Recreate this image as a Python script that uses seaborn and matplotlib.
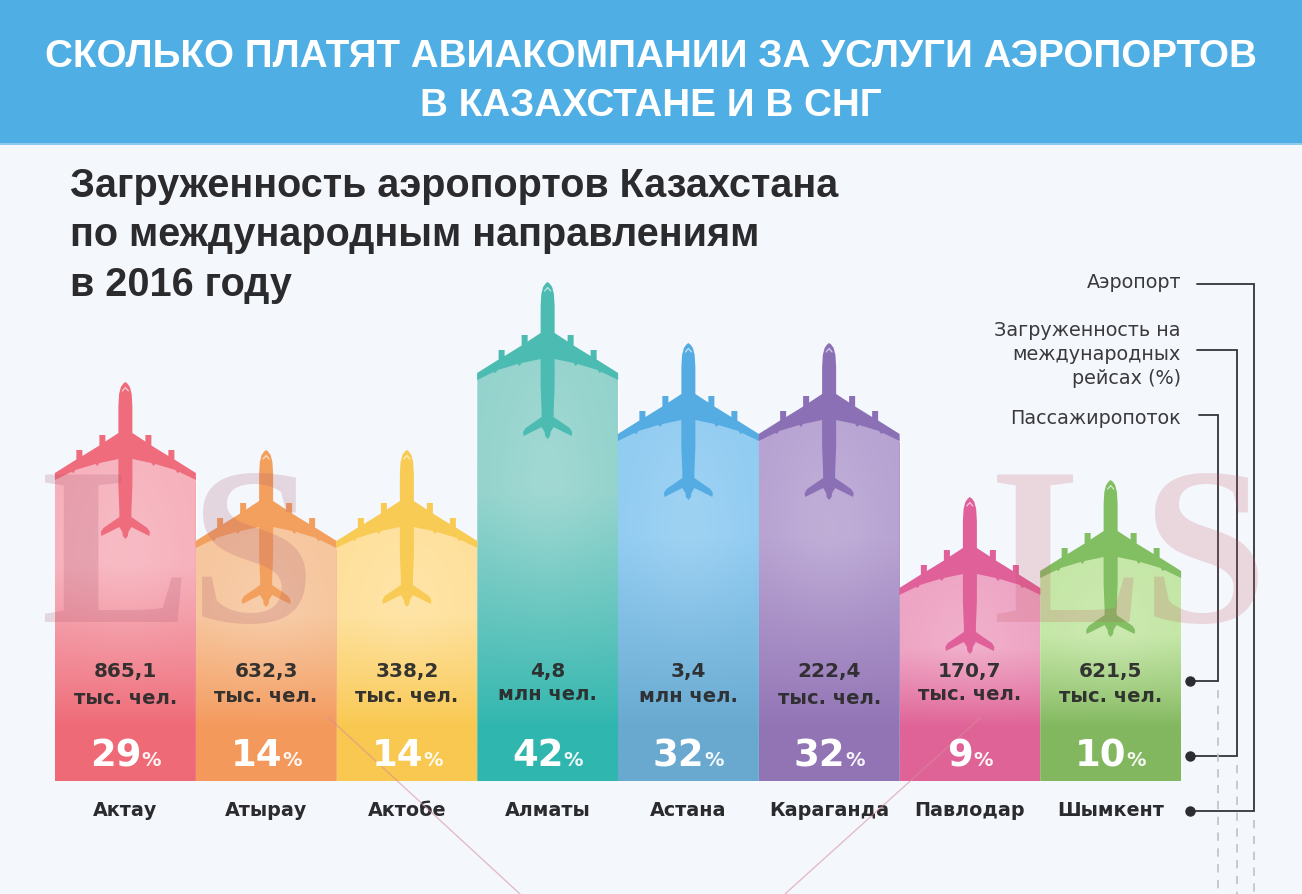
import numpy as np
import pandas as pd
import matplotlib
matplotlib.use("Agg")
import matplotlib.pyplot as plt
from matplotlib.patches import Polygon, Rectangle
import seaborn as sns

# ---------- data ----------
cities = ["Актау", "Атырау", "Актобе", "Алматы", "Астана", "Караганда", "Павлодар", "Шымкент"]
load_pct = [29, 14, 14, 42, 32, 32, 9, 10]
passengers = ["865,1", "632,3", "338,2", "4,8", "3,4", "222,4", "170,7", "621,5"]
units = ["тыс. чел.", "тыс. чел.", "тыс. чел.", "млн чел.", "млн чел.", "тыс. чел.", "тыс. чел.", "тыс. чел."]
bar_heights = [301, 233, 233, 401, 340, 340, 186, 203]

title_lines = ["СКОЛЬКО ПЛАТЯТ АВИАКОМПАНИИ ЗА УСЛУГИ АЭРОПОРТОВ", "В КАЗАХСТАНЕ И В СНГ"]
sub_lines = ["Загруженность аэропортов Казахстана", "по международным направлениям", "в 2016 году"]

# ---------- styles ----------
bottom_colors = ["#EE6A76", "#F4995C", "#F9C850", "#2FB6AE", "#69A9CF", "#9274B5", "#DF6396", "#82B75F"]
top_colors = ["#F6B0BB", "#F6C59C", "#FEE09A", "#92D2CC", "#8FCBF1", "#B6A1D1", "#EEA3C3", "#C3E6A4"]
plane_colors = ["#EE6C7C", "#F3A05E", "#F8CB55", "#4CBBB2", "#55ACE3", "#8B70B5", "#E0609A", "#82BE62"]
BG = "#F4F8FD"
DARK = "#2B2B2E"
unit_y_px = [699, 697, 696, 694, 696, 698, 694, 697]

W, H = 1302, 894
DPI = 100
sns.set_theme(style="white")
plt.rcParams["font.family"] = ["DejaVu Sans"]

fig = plt.figure(figsize=(W / DPI, H / DPI), dpi=DPI, facecolor=BG)

# pixel-coordinates background layer
bg = fig.add_axes([0, 0, 1, 1], zorder=0)
bg.set_xlim(0, W); bg.set_ylim(H, 0); bg.axis("off")
bg.add_patch(Rectangle((0, 0), W, 143, fc="#4FAEE3", ec="none"))
bg.add_patch(Rectangle((0, 143), W, 1.5, fc="#8CCBEE", ec="none"))

px = lambda p: p * 72 / DPI
def fit(t, target):
    r = fig.canvas.get_renderer()
    t.set_fontsize(t.get_fontsize() * target / t.get_window_extent(r).width)

HEAD = "Liberation Sans"
t1 = bg.text(651, 57, title_lines[0], color="white", weight="bold", family=HEAD, ha="center", va="center", fontsize=26)
fit(t1, 1212)
bg.text(651, 106, title_lines[1], color="white", weight="bold", family=HEAD, ha="center", va="center", fontsize=t1.get_fontsize())
s1 = bg.text(70, 186, sub_lines[0], color=DARK, weight="bold", family=HEAD, ha="left", va="center", fontsize=24)
fit(s1, 770)
bg.text(70, 235, sub_lines[1], color=DARK, weight="bold", family=HEAD, ha="left", va="center", fontsize=s1.get_fontsize())
bg.text(70, 285, sub_lines[2], color=DARK, weight="bold", family=HEAD, ha="left", va="center", fontsize=s1.get_fontsize())

# chart axes: one data unit on y is one pixel of height
x0, x1, y0, ytop = 55, 1181, 781, 281
ax = fig.add_axes([x0 / W, (H - y0) / H, (x1 - x0) / W, (y0 - ytop) / H], zorder=1)
ax.patch.set_alpha(0)
df = pd.DataFrame({"city": cities, "height": bar_heights})
sns.barplot(data=df, x="city", y="height", hue="city", palette=bottom_colors, width=1.0,
            saturation=1, dodge=False, legend=False, ax=ax, zorder=2)
ax.set_xlim(-0.5, 7.5); ax.set_ylim(0, y0 - ytop)
ax.set_xlabel(""); ax.set_ylabel("")
ax.yaxis.set_visible(False)
sns.despine(ax=ax, left=True, bottom=True)
ax.tick_params(axis="x", length=0, pad=px(20), labelsize=px(19.2), labelcolor=DARK)
for lab in ax.get_xticklabels():
    lab.set_fontweight("bold")

bw = (x1 - x0) / 8.0  # pixels per category

half = [(0, 0), (2, 1.5), (4.5, 5), (6.3, 12), (7, 24), (7, 51), (20, 59.5), (20, 53), (26, 53), (26, 63.5),
        (43, 74), (43, 68), (49, 68), (49, 77.5), (70.5, 91), (70.5, 98), (54, 90), (52, 91), (50, 88),
        (30, 82), (28, 84), (26, 81), (7, 77), (7, 104), (6, 130), (6, 135), (22, 146), (24.5, 150),
        (24, 154), (6, 145), (3, 150), (2.5, 154), (0, 157)]
half = np.array(half, float)
plane = np.vstack([half, half[::-1][1:-1] * [-1, 1]])

yy, xx = np.mgrid[0:1:300j, -0.5:0.5:120j]
for i, bar in enumerate(ax.patches[:len(cities)]):
    h = bar.get_height()
    cx = bar.get_x() + bar.get_width() / 2
    top_ext = h + 40
    d = yy * top_ext
    t = np.clip((d - 55) / (0.72 * h - 55), 0, 1) ** 0.85
    c0 = np.array(matplotlib.colors.to_rgb(bottom_colors[i]))
    c1 = np.array(matplotlib.colors.to_rgb(top_colors[i]))
    img = c0 + (c1 - c0) * t[..., None]
    glow = 0.13 * np.exp(-(xx / 0.4) ** 2 - ((d - 0.74 * h) / (0.35 * h)) ** 2) * t
    img = img + (1 - img) * glow[..., None]
    im = ax.imshow(np.clip(img, 0, 1), origin="lower", aspect="auto", zorder=3,
                   extent=(cx - .5, cx + .5, 0, top_ext), interpolation="bilinear")
    tent = Polygon([(cx - .5, 0), (cx - .5, h + 2), (cx - 7 / bw, h + 36), (cx + 7 / bw, h + 36),
                    (cx + .5, h + 2), (cx + .5, 0)], transform=ax.transData, fc="none", ec="none")
    ax.add_patch(tent)
    im.set_clip_path(tent)
    nose = h + 98
    pts = np.column_stack([cx + plane[:, 0] / bw, nose - plane[:, 1]])
    ax.add_patch(Polygon(pts, closed=True, fc=plane_colors[i], ec="none", zorder=4, clip_on=False))
    ax.plot([cx - 3 / bw, cx, cx + 3 / bw], [nose - 9, nose - 5.5, nose - 9], color="white",
            lw=0.9, alpha=0.65, zorder=5, clip_on=False)
ax.set_xlim(-0.5, 7.5); ax.set_ylim(0, y0 - ytop)

# front layer in pixel coordinates
fg = fig.add_axes([0, 0, 1, 1], zorder=2)
fg.set_xlim(0, W); fg.set_ylim(H, 0); fg.axis("off"); fg.patch.set_alpha(0)

r = fig.canvas.get_renderer()
for i in range(len(cities)):
    cx = x0 + (i + .5) * bw
    fg.text(cx, 672, passengers[i], color="#2B2B2B", weight="bold", ha="center", va="center", fontsize=px(20), alpha=0.95)
    fg.text(cx, unit_y_px[i], units[i], color="#2B2B2B", weight="bold", ha="center", va="center", fontsize=px(19.5), alpha=0.95)
    a = fg.text(0, 756, str(load_pct[i]), color="white", weight="bold", ha="left", va="center", fontsize=px(37))
    b = fg.text(0, 760, "%", color="white", weight="bold", ha="left", va="center", fontsize=px(19.5), alpha=0.92)
    wa = a.get_window_extent(r).width; wb = b.get_window_extent(r).width
    left = cx - (wa + wb) / 2
    a.set_x(left); b.set_x(left + wa)

# legend-like guides on the right
guides = [("Аэропорт", 1197, 284, 1254, 811),
          ("", 1197, 350, 1237, 756),
          ("Пассажиропоток", 1199, 415, 1218, 681)]
for _, xs, ys, xv, yd in guides:
    fg.plot([xs, xv, xv, 1190], [ys, ys, yd, yd], color="#33353A", lw=1.3, solid_joinstyle="miter")
    fg.plot([xv, xv], [yd + 9, H], color="#BFC3C9", lw=1.2, ls=(0, (5, 4.5)))
    fg.plot([1190], [yd], "o", ms=7.5, color="#2B2D31", mec="none")
fsz = px(19)
ref = fg.text(1181, 331, "Загруженность на", color="#3A3A3D", ha="right", va="center", fontsize=fsz)
fit(ref, 187); fsz = ref.get_fontsize()
fg.text(1181, 355, "международных", color="#3A3A3D", ha="right", va="center", fontsize=fsz)
fg.text(1181, 379, "рейсах (%)", color="#3A3A3D", ha="right", va="center", fontsize=fsz)
fg.text(1181, 283, guides[0][0], color="#3A3A3D", ha="right", va="center", fontsize=fsz)
fg.text(1181, 418, guides[2][0], color="#3A3A3D", ha="right", va="center", fontsize=fsz)

# watermark
for xw, col, al in [(40, "#A8506A", 0.2), (992, "#C25560", 0.2)]:
    fg.text(xw, 622, "LS", family="Liberation Serif", weight="bold", color=col, alpha=al, ha="left",
            va="baseline", fontsize=px(225))
for xa, ya, xb, yb in [(328, 717, 520, 894), (980, 718, 785, 894)]:
    fg.plot([xa, xb], [ya, yb], color="#D88A9A", lw=1, alpha=0.55)

fig.savefig("out.png", dpi=DPI, facecolor=BG)
